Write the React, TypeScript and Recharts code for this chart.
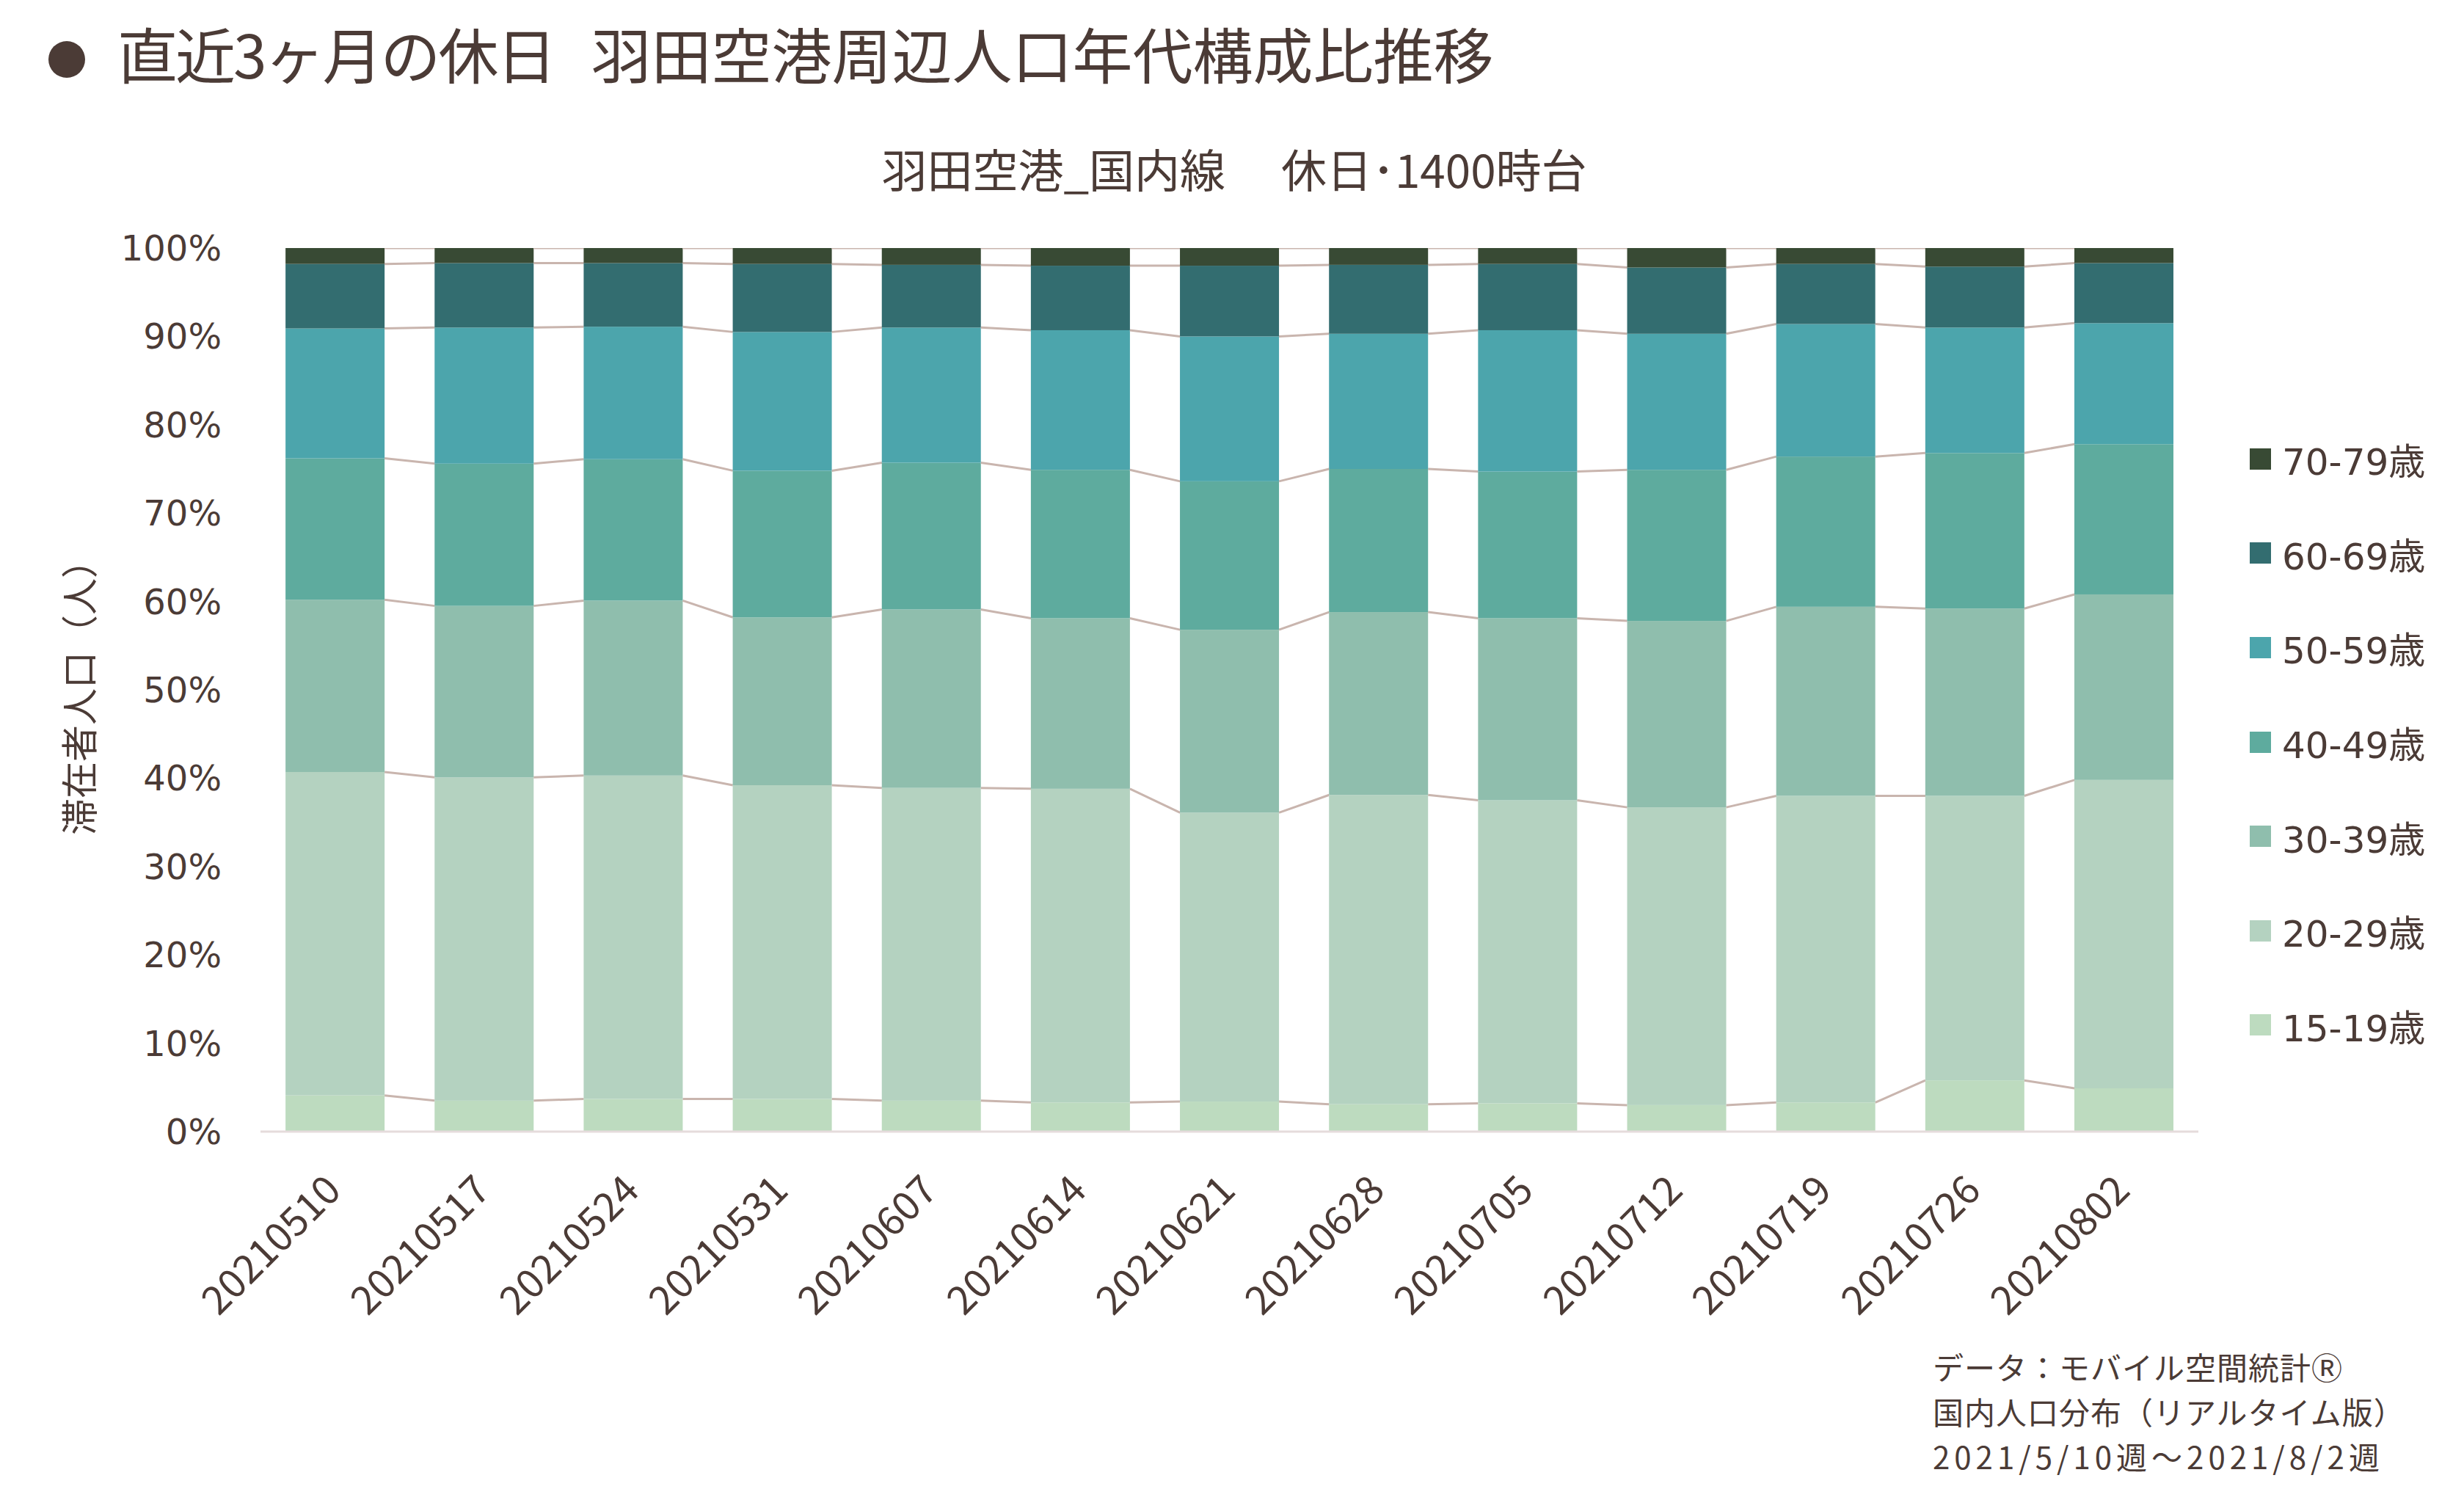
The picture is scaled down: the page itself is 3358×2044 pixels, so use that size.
import React from 'react';
import { BarChart, Bar, XAxis, YAxis, Legend, Label } from 'recharts';

const TEXT = '#4b3b36';
const LINK = '#c9b5ae';

const weeks = [
  '20210510', '20210517', '20210524', '20210531', '20210607', '20210614', '20210621',
  '20210628', '20210705', '20210712', '20210719', '20210726', '20210802',
];

// share of each age group per week (%)
const age15_19 = [4.1, 3.5, 3.7, 3.7, 3.5, 3.3, 3.4, 3.1, 3.2, 3.0, 3.3, 5.8, 4.9];
const age20_29 = [36.6, 36.6, 36.6, 35.5, 35.4, 35.5, 32.7, 35.0, 34.3, 33.7, 34.7, 32.2, 34.9];
const age30_39 = [19.5, 19.4, 19.8, 19.0, 20.2, 19.3, 20.7, 20.7, 20.6, 21.1, 21.4, 21.2, 21.0];
const age40_49 = [16.0, 16.1, 16.0, 16.6, 16.6, 16.8, 16.8, 16.2, 16.6, 17.1, 17.0, 17.6, 17.0];
const age50_59 = [14.7, 15.4, 15.0, 15.7, 15.3, 15.8, 16.4, 15.3, 16.0, 15.4, 15.0, 14.2, 13.7];
const age60_69 = [7.3, 7.3, 7.2, 7.7, 7.1, 7.3, 8.0, 7.8, 7.5, 7.5, 6.8, 6.9, 6.8];
const age70_79 = [1.8, 1.7, 1.7, 1.8, 1.9, 2.0, 2.0, 1.9, 1.8, 2.2, 1.8, 2.1, 1.7];

const seriesNames = ['15-19歳', '20-29歳', '30-39歳', '40-49歳', '50-59歳', '60-69歳', '70-79歳'];
const seriesColors = ['#bddbbf', '#b4d2c0', '#8fbead', '#5eab9e', '#4ca5ac', '#336d70', '#384a34'];
const seriesValues = [age15_19, age20_29, age30_39, age40_49, age50_59, age60_69, age70_79];

const yTicks = [0, 10, 20, 30, 40, 50, 60, 70, 80, 90, 100];

const rows = weeks.map((week, i) => {
  const row: any = { week };
  let cum = 0;
  row.cum = seriesValues.map((vals, k) => {
    row[`s${k}`] = vals[i];
    cum += vals[i];
    return cum;
  });
  return row;
});

const GAP = 0.168; // barCategoryGap on each side

// bar segment plus the series line to the next week's bar
const makeBarShape = (k: number) => (props: any) => {
  const { x, y, width, height, index, fill, background } = props;
  const here = rows[index];
  const next = rows[index + 1];
  let link = null;
  if (next) {
    let top: number;
    let h: number;
    if (background && background.height) {
      top = background.y;
      h = background.height;
    } else {
      const ppu = height / here[`s${k}`];
      h = ppu * 100;
      top = y + height + (here.cum[k] - here[`s${k}`]) * ppu - h;
    }
    const yAt = (v: number) => top + h * (1 - v / 100);
    const gap = (width * 2 * GAP) / (1 - 2 * GAP);
    link = (
      <line
        x1={x + width}
        y1={yAt(here.cum[k])}
        x2={x + width + gap}
        y2={yAt(next.cum[k])}
        stroke={LINK}
        strokeWidth={3}
      />
    );
  }
  return (
    <g>
      <rect x={x} y={y} width={width} height={height} fill={fill} />
      {link}
    </g>
  );
};

const XTick: React.FC<any> = ({ x, y, payload }) => (
  <g transform={`translate(${x + 11},${y + 83})`}>
    <text
      x={0}
      y={0}
      textAnchor="end"
      transform="rotate(-45)"
      fill={TEXT}
      fontSize={54}
      fontFamily="'Noto Sans CJK JP', sans-serif"
    >
      {payload.value}
    </text>
  </g>
);

const renderLegend = () => (
  <div>
    {[6, 5, 4, 3, 2, 1, 0].map((k) => (
      <div key={k} style={{ display: 'flex', alignItems: 'center', height: 128.6 }}>
        <span style={{ width: 29, height: 29, background: seriesColors[k], marginRight: 15, display: 'inline-block' }} />
        <span style={{ fontSize: 50, color: TEXT, fontFamily: "'DejaVu Sans', 'Noto Sans CJK JP', sans-serif", whiteSpace: 'nowrap' }}>
          {seriesNames[k]}
        </span>
      </div>
    ))}
  </div>
);

const App: React.FC = () => {
  return (
    <div
      style={{
        position: 'absolute',
        left: 0,
        top: 0,
        width: 3358,
        height: 2044,
        background: '#ffffff',
        fontFamily: "'Noto Sans CJK JP', sans-serif",
        color: TEXT,
      }}
    >
      <div style={{ position: 'absolute', left: 66, top: 56, width: 50, height: 50, borderRadius: '50%', background: TEXT }} />
      <div style={{ position: 'absolute', left: 160, top: 31, fontSize: 82, lineHeight: '82px', whiteSpace: 'pre' }}>
        <span style={{ letterSpacing: -3 }}>直近3ヶ月の休日</span>
        <span style={{ marginLeft: 50 }}>羽田空港周辺人口年代構成比推移</span>
      </div>
      <div
        style={{
          position: 'absolute',
          left: 1682,
          top: 198,
          transform: 'translateX(-50%)',
          fontSize: 62,
          lineHeight: '62px',
          whiteSpace: 'pre',
        }}
      >
        {'羽田空港_国内線　 休日･1400時台'}
      </div>

      <div style={{ position: 'absolute', left: 0, top: 0 }}>
        <BarChart
          width={3358}
          height={2044}
          data={rows}
          margin={{ top: 338, right: 362, bottom: 252, left: 0 }}
          barCategoryGap={`${GAP * 100}%`}
        >
          <XAxis
            dataKey="week"
            interval={0}
            tickLine={false}
            tickSize={0}
            tickMargin={0}
            height={250}
            axisLine={{ stroke: '#e5dcdc', strokeWidth: 3 }}
            tick={<XTick />}
          />
          <YAxis
            width={355}
            domain={[0, 100]}
            allowDataOverflow
            ticks={yTicks}
            interval={0}
            axisLine={false}
            tickLine={false}
            tickSize={0}
            tickMargin={53}
            tickFormatter={(v: number) => `${v}%`}
            tick={{ fill: TEXT, fontSize: 48, fontFamily: "'DejaVu Sans', sans-serif" }}
          >
            <Label
              content={(p: any) => {
                const vb = p.viewBox || { x: 0, y: 338, width: 355, height: 1204 };
                const cx = vb.x + 105;
                const cy = vb.y + vb.height / 2 - 2;
                return (
                  <text
                    x={cx}
                    y={cy}
                    transform={`rotate(-90, ${cx}, ${cy})`}
                    textAnchor="middle"
                    dominantBaseline="central"
                    fill={TEXT}
                    fontSize={50}
                    fontFamily="'Noto Sans CJK JP', sans-serif"
                  >
                    滞在者人口（人）
                  </text>
                );
              }}
            />
          </YAxis>
          <Legend
            layout="vertical"
            align="center"
            verticalAlign="middle"
            wrapperStyle={{ left: 3066, top: 561, width: 290 }}
            content={renderLegend}
          />
          {seriesNames.map((name, k) => (
            <Bar
              key={name}
              dataKey={`s${k}`}
              name={name}
              stackId="a"
              fill={seriesColors[k]}
              isAnimationActive={false}
              shape={makeBarShape(k)}
            />
          ))}
        </BarChart>
      </div>

      <div style={{ position: 'absolute', left: 2634, top: 1831, fontSize: 42, lineHeight: '61px', whiteSpace: 'pre' }}>
        <div style={{ letterSpacing: 1 }}>
          データ：モバイル空間統計<span style={{ fontSize: 42 }}>Ⓡ</span>
        </div>
        <div style={{ letterSpacing: 1 }}>国内人口分布（リアルタイム版）</div>
        <div style={{ letterSpacing: 6 }}>2021/5/10週～2021/8/2週</div>
      </div>
    </div>
  );
};

export default App;
